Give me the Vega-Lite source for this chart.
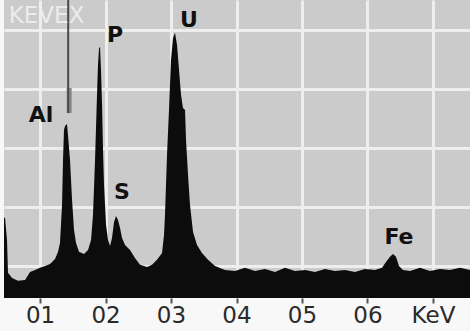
{
  "$schema": "https://vega.github.io/schema/vega-lite/v6.json",
  "width": 466,
  "height": 298,
  "autosize": "none",
  "padding": {"left": 4, "top": 0, "right": 0, "bottom": 33},
  "background": "#f8f8f8",
  "config": {
    "view": {"fill": "#cbcbcb", "stroke": null}
  },
  "datasets": {
    "spectrum": [
      {"kev": 0.45, "counts": 2.64}, {"kev": 0.466, "counts": 2.64}, {"kev": 0.496, "counts": 1.89}, {"kev": 0.511, "counts": 0.78},
      {"kev": 0.573, "counts": 0.61}, {"kev": 0.664, "counts": 0.51}, {"kev": 0.771, "counts": 0.54},
      {"kev": 0.847, "counts": 0.81}, {"kev": 0.924, "counts": 0.88}, {"kev": 1.0, "counts": 0.95},
      {"kev": 1.076, "counts": 1.01}, {"kev": 1.153, "counts": 1.08}, {"kev": 1.229, "counts": 1.25},
      {"kev": 1.275, "counts": 1.49}, {"kev": 1.305, "counts": 1.79}, {"kev": 1.336, "counts": 3.07},
      {"kev": 1.351, "counts": 4.59}, {"kev": 1.366, "counts": 5.61}, {"kev": 1.382, "counts": 5.74},
      {"kev": 1.412, "counts": 5.81}, {"kev": 1.427, "counts": 5.44}, {"kev": 1.458, "counts": 4.59},
      {"kev": 1.489, "counts": 3.24}, {"kev": 1.519, "counts": 2.23}, {"kev": 1.55, "counts": 1.79},
      {"kev": 1.595, "counts": 1.49}, {"kev": 1.672, "counts": 1.42}, {"kev": 1.733, "counts": 1.55},
      {"kev": 1.779, "counts": 1.89}, {"kev": 1.809, "counts": 2.74}, {"kev": 1.84, "counts": 4.59},
      {"kev": 1.863, "counts": 6.28}, {"kev": 1.885, "counts": 7.8}, {"kev": 1.901, "counts": 8.38},
      {"kev": 1.916, "counts": 8.41}, {"kev": 1.931, "counts": 7.64}, {"kev": 1.947, "counts": 6.45},
      {"kev": 1.962, "counts": 4.93}, {"kev": 1.977, "counts": 3.75}, {"kev": 2.008, "counts": 2.4},
      {"kev": 2.038, "counts": 1.89}, {"kev": 2.069, "counts": 1.69}, {"kev": 2.099, "counts": 1.96},
      {"kev": 2.13, "counts": 2.5}, {"kev": 2.16, "counts": 2.7}, {"kev": 2.191, "counts": 2.57},
      {"kev": 2.221, "counts": 2.3}, {"kev": 2.252, "counts": 1.96}, {"kev": 2.298, "counts": 1.72},
      {"kev": 2.374, "counts": 1.55}, {"kev": 2.45, "counts": 1.28}, {"kev": 2.527, "counts": 1.05},
      {"kev": 2.634, "counts": 0.98}, {"kev": 2.71, "counts": 1.05}, {"kev": 2.786, "counts": 1.22},
      {"kev": 2.863, "counts": 1.45}, {"kev": 2.893, "counts": 2.06}, {"kev": 2.908, "counts": 2.74},
      {"kev": 2.939, "counts": 4.76}, {"kev": 2.969, "counts": 6.28}, {"kev": 3.0, "counts": 7.97},
      {"kev": 3.031, "counts": 8.72}, {"kev": 3.061, "counts": 8.89}, {"kev": 3.092, "counts": 8.48},
      {"kev": 3.122, "counts": 7.64}, {"kev": 3.153, "counts": 6.79}, {"kev": 3.183, "counts": 6.35},
      {"kev": 3.214, "counts": 6.28}, {"kev": 3.229, "counts": 5.27}, {"kev": 3.26, "counts": 4.09},
      {"kev": 3.29, "counts": 3.07}, {"kev": 3.336, "counts": 2.16}, {"kev": 3.397, "counts": 1.72},
      {"kev": 3.473, "counts": 1.45}, {"kev": 3.565, "counts": 1.22}, {"kev": 3.672, "counts": 1.01},
      {"kev": 3.824, "counts": 0.88}, {"kev": 3.977, "counts": 0.84}, {"kev": 4.13, "counts": 0.95},
      {"kev": 4.282, "counts": 0.84}, {"kev": 4.435, "counts": 0.91}, {"kev": 4.588, "counts": 0.81},
      {"kev": 4.74, "counts": 0.95}, {"kev": 4.893, "counts": 0.84}, {"kev": 5.046, "counts": 0.88},
      {"kev": 5.198, "counts": 0.81}, {"kev": 5.351, "counts": 0.91}, {"kev": 5.504, "counts": 0.84},
      {"kev": 5.656, "counts": 0.88}, {"kev": 5.809, "counts": 0.81}, {"kev": 5.962, "counts": 0.91},
      {"kev": 6.115, "counts": 0.88}, {"kev": 6.221, "counts": 0.95}, {"kev": 6.282, "counts": 1.15},
      {"kev": 6.344, "counts": 1.32}, {"kev": 6.389, "counts": 1.42}, {"kev": 6.435, "counts": 1.32},
      {"kev": 6.481, "counts": 1.01}, {"kev": 6.542, "counts": 0.88}, {"kev": 6.649, "counts": 0.84},
      {"kev": 6.802, "counts": 0.95}, {"kev": 6.954, "counts": 0.84}, {"kev": 7.107, "counts": 0.91},
      {"kev": 7.26, "counts": 0.88}, {"kev": 7.412, "counts": 0.95}, {"kev": 7.565, "counts": 0.88}
    ],
    "labels": [
      {"kev": 1.015, "counts": 6.11, "element": "Al"},
      {"kev": 2.145, "counts": 8.82, "element": "P"},
      {"kev": 3.275, "counts": 9.32, "element": "U"},
      {"kev": 2.252, "counts": 3.51, "element": "S"},
      {"kev": 6.481, "counts": 1.99, "element": "Fe"}
    ],
    "cursor": [
      {"kev": 1.43, "from": 6.18, "to": 10}
    ],
    "cursorband": [
      {"kev": 1.445, "from": 6.18, "to": 7.03}
    ],
    "brand": [
      {"kev": 1.1, "counts": 9.45, "name": "KEVEX"}
    ]
  },
  "layer": [
    {
      "data": {"name": "spectrum"},
      "mark": {"type": "area", "color": "#0c0c0c", "opacity": 1, "interpolate": "linear", "clip": true},
      "encoding": {
        "x": {
          "field": "kev", "type": "quantitative",
          "scale": {"domain": [0.45, 7.565], "nice": false, "zero": false},
          "axis": {
            "title": null,
            "values": [1, 2, 3, 4, 5, 6, 7],
            "labelExpr": "datum.value == 7 ? 'KeV' : '0' + datum.value",
            "domain": false,
            "ticks": true,
            "tickSize": 5,
            "tickWidth": 2,
            "tickColor": "#555555",
            "labelFont": "DejaVu Sans",
            "labelFontSize": 23,
            "labelColor": "#2a2a2a",
            "labelPadding": 1,
            "labelFlush": false,
            "labelOverlap": false,
            "grid": true,
            "gridColor": "#eeeeee",
            "gridWidth": 3
          }
        },
        "y": {
          "field": "counts", "type": "quantitative",
          "stack": null,
          "scale": {"domain": [-0.07, 10], "nice": false, "zero": false},
          "axis": {
            "title": null,
            "values": [1, 2, 3, 4, 5, 6, 7, 8, 9],
            "labels": false,
            "ticks": false,
            "domain": false,
            "grid": true,
            "gridColor": "#eeeeee",
            "gridWidth": 3
          }
        },
        "y2": {"datum": -0.07}
      }
    },
    {
      "data": {"name": "cursorband"},
      "mark": {"type": "rule", "color": "#888888", "strokeWidth": 5},
      "encoding": {
        "x": {"field": "kev", "type": "quantitative"},
        "y": {"field": "from", "type": "quantitative"},
        "y2": {"field": "to"}
      }
    },
    {
      "data": {"name": "cursor"},
      "mark": {"type": "rule", "color": "#4a4a4a", "strokeWidth": 2},
      "encoding": {
        "x": {"field": "kev", "type": "quantitative"},
        "y": {"field": "from", "type": "quantitative"},
        "y2": {"field": "to"}
      }
    },
    {
      "data": {"name": "labels"},
      "mark": {"type": "text", "font": "DejaVu Sans", "fontWeight": "bold", "fontSize": 22, "color": "#111111", "baseline": "middle", "align": "center"},
      "encoding": {
        "x": {"field": "kev", "type": "quantitative"},
        "y": {"field": "counts", "type": "quantitative"},
        "text": {"field": "element"}
      }
    },
    {
      "data": {"name": "brand"},
      "mark": {"type": "text", "font": "DejaVu Sans", "fontSize": 23, "color": "#f2f2f2", "opacity": 0.85, "baseline": "middle", "align": "center"},
      "encoding": {
        "x": {"field": "kev", "type": "quantitative"},
        "y": {"field": "counts", "type": "quantitative"},
        "text": {"field": "name"}
      }
    }
  ]
}
